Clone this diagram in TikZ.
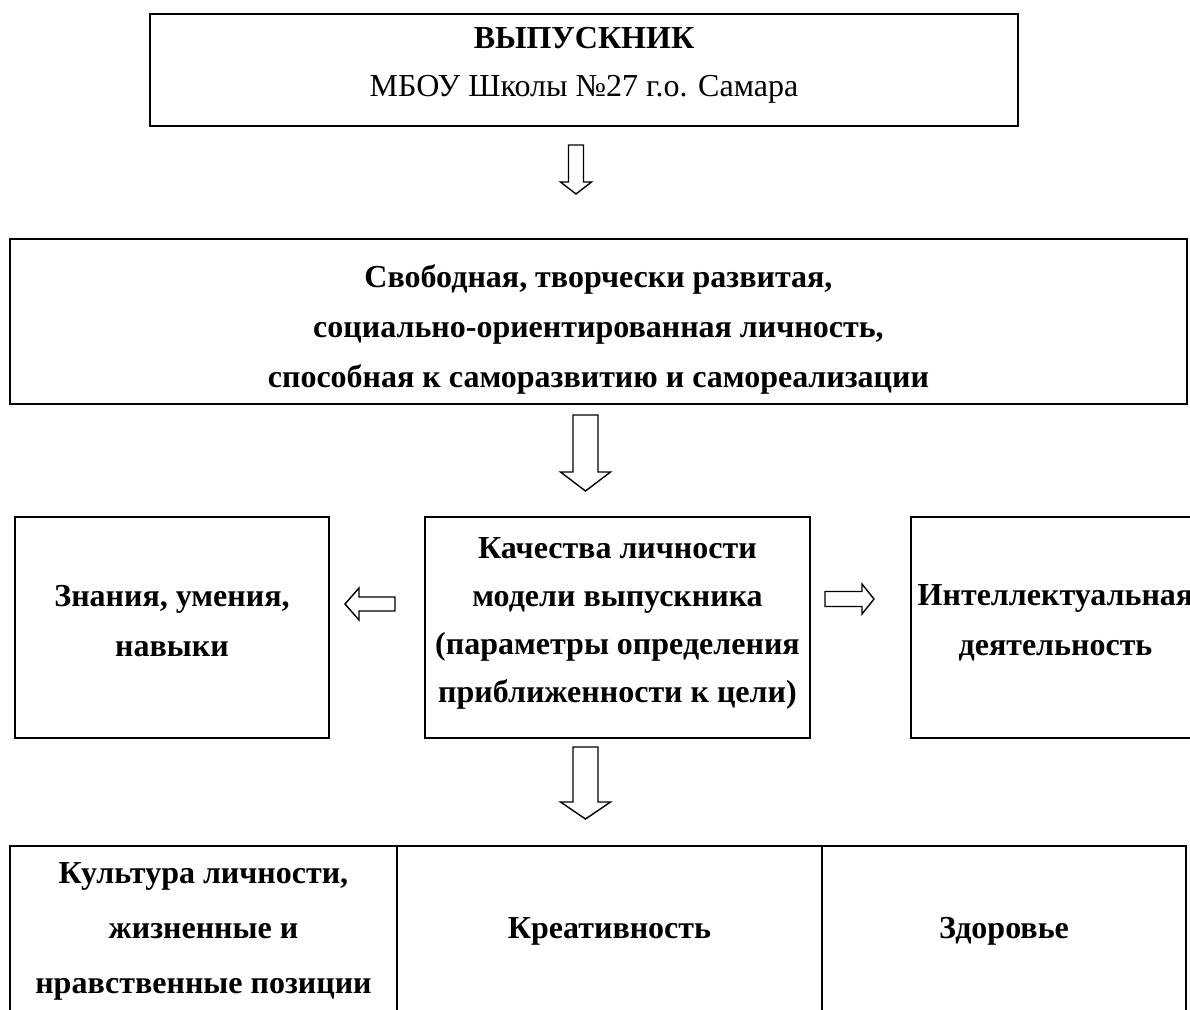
\documentclass[tikz,border=0pt]{standalone}
\usepackage{fontspec}
\setmainfont{Liberation Serif}
\tikzset{
	box/.style={draw, line width=1.3pt, inner sep=0pt, align=center,
		font=\fontsize{16}{24}\selectfont\bfseries},
	cell/.style={box, minimum height=90pt, text depth=8pt},
	hollowarr/.style={draw, line width=0.7pt, fill=white, line join=miter},
}
\begin{document}
\begin{tikzpicture}[x=0.5pt,y=-0.5pt]
		\useasboundingbox (0,0) rectangle (1190,1009);
		\clip (0,0) rectangle (1190,1009);
		% boxes
		\node[box, minimum width=434pt, minimum height=56pt, text depth=8pt] (grad) at (584,70) {ВЫПУСКНИК\\{\mdseries МБОУ Школы №27 г.о. Самара}};
		\node[box, minimum width=588.5pt, minimum height=82.5pt, text height=69pt] (pers) at (598.5,321.5) {Свободная, творчески развитая,\\[1pt]социально-ориентированная личность,\\[1pt]способная к саморазвитию и самореализации};
		\node[box, minimum width=157pt, minimum height=110.5pt, text depth=7pt] (know) at (172,627.5) {Знания, умения,\\[1pt]навыки};
		\node[box, minimum width=192.5pt, minimum height=110.5pt, text depth=7pt] (qual) at (617.5,627.5) {Качества личности\\модели выпускника\\(параметры определения\\приближенности к цели)};
		\node[box, minimum width=144.5pt, minimum height=110.5pt, text depth=7pt] (intel) at (1055.5,627.5) {Интеллектуальная\\[1pt]деятельность};
		\node[cell, minimum width=193.5pt] (cult) at (203.5,936) {Культура личности,\\[3.5pt]жизненные и\\[3.5pt]нравственные позиции};
		\node[cell, minimum width=212.5pt] (creat) at (609.5,936) {Креативность};
		\node[cell, minimum width=182pt] (health) at (1004,936) {Здоровье};
		% arrows
		\draw[hollowarr, shift={(576,145)}] (-7.5,0) -- (-7.5,37) -- (-15.5,37) -- (0,49) -- (15.5,37) -- (7.5,37) -- (7.5,0) -- cycle;
		\draw[hollowarr, shift={(585.5,415)}] (-12.5,0) -- (-12.5,57) -- (-25,57) -- (0,76) -- (25,57) -- (12.5,57) -- (12.5,0) -- cycle;
		\draw[hollowarr, shift={(585.5,747)}] (-12.5,0) -- (-12.5,55) -- (-25,55) -- (0,72) -- (25,55) -- (12.5,55) -- (12.5,0) -- cycle;
		\draw[hollowarr, shift={(395,604)}] (0,-7) -- (-36,-7) -- (-36,-16) -- (-50,0) -- (-36,16) -- (-36,7) -- (0,7) -- cycle;
		\draw[hollowarr, shift={(825,599)}] (0,-7.5) -- (37,-7.5) -- (37,-15) -- (49,0) -- (37,15) -- (37,7.5) -- (0,7.5) -- cycle;
\end{tikzpicture}
\end{document}
